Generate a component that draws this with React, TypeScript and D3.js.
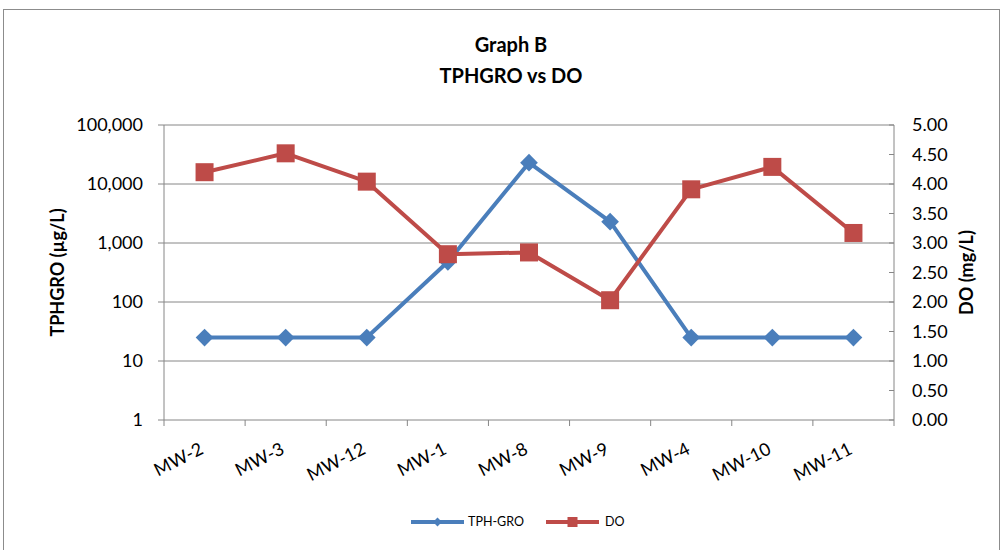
import React from "react";
import * as d3 from "d3";

// Data
const categories = ["MW-2", "MW-3", "MW-12", "MW-1", "MW-8", "MW-9", "MW-4", "MW-10", "MW-11"];
const tphGro = [25, 25, 25, 480, 23000, 2300, 25, 25, 25];
const doValues = [4.2, 4.52, 4.04, 2.81, 2.84, 2.03, 3.91, 4.29, 3.17];
const leftTicks = [1, 10, 100, 1000, 10000, 100000];
const rightTicks = [0, 0.5, 1, 1.5, 2, 2.5, 3, 3.5, 4, 4.5, 5];

// Dimensions
const W = 1004;
const H = 550;
const plot = { left: 164, right: 894, top: 125, bottom: 420 };

// Colours
const blue = "#4A7EBB";
const red = "#BE4B48";
const grid = "#868686";
const font = "Lato, 'Open Sans', sans-serif";

const App = () => {
  const x = d3.scaleBand<string>().domain(categories).range([plot.left, plot.right]);
  const yL = d3.scaleLog().domain([1, 100000]).range([plot.bottom, plot.top]);
  const yR = d3.scaleLinear().domain([0, 5]).range([plot.bottom, plot.top]);
  const cx = (c: string) => (x(c) as number) + x.bandwidth() / 2;

  const tphLine = d3
    .line<number>()
    .x((_, i) => cx(categories[i]))
    .y((d) => yL(d));
  const doLine = d3
    .line<number>()
    .x((_, i) => cx(categories[i]))
    .y((d) => yR(d));

  const fmt = d3.format(",");
  const bounds = [...categories.map((c) => x(c) as number), plot.right];

  return (
    <svg
      width={W}
      height={H}
      style={{ position: "absolute", left: 0, top: 0, background: "#fff" }}
      fontFamily={font}
    >
      <rect x={3.5} y={9.5} width={996} height={560} fill="#fff" stroke="#8c8c8c" />

      {/* Title */}
      <text x={511} y={52} textAnchor="middle" fontSize={20} fontWeight="bold">
        Graph B
      </text>
      <text x={511} y={83} textAnchor="middle" fontSize={20} fontWeight="bold">
        TPHGRO vs DO
      </text>

      {/* Gridlines */}
      {leftTicks.slice(1).map((t) => (
        <line key={t} x1={plot.left} x2={plot.right} y1={yL(t)} y2={yL(t)} stroke={grid} strokeWidth={1} />
      ))}

      {/* Left axis */}
      <line x1={plot.left} x2={plot.left} y1={plot.top} y2={plot.bottom} stroke={grid} />
      {leftTicks.map((t) => (
        <g key={t} transform={`translate(0,${yL(t)})`}>
          <line x1={plot.left - 6} x2={plot.left} stroke={grid} />
          <text x={143} dy="0.35em" textAnchor="end" fontSize={18} fill="#000">
            {fmt(t)}
          </text>
        </g>
      ))}
      <text
        transform={`translate(64,${(plot.top + plot.bottom) / 2}) rotate(-90)`}
        textAnchor="middle"
        fontSize={18}
        fontWeight="bold"
      >
        TPHGRO (µg/L)
      </text>

      {/* Right axis */}
      <line x1={plot.right} x2={plot.right} y1={plot.top} y2={plot.bottom} stroke={grid} />
      {rightTicks.map((t) => (
        <g key={t} transform={`translate(0,${yR(t)})`}>
          <line x1={plot.right - 5} x2={plot.right} stroke={grid} />
          <text x={912} dy="0.35em" textAnchor="start" fontSize={18} fill="#000">
            {t.toFixed(2)}
          </text>
        </g>
      ))}
      <text
        transform={`translate(973,${(plot.top + plot.bottom) / 2}) rotate(-90)`}
        textAnchor="middle"
        fontSize={18}
        fontWeight="bold"
      >
        DO (mg/L)
      </text>

      {/* Bottom axis */}
      <line x1={plot.left} x2={plot.right} y1={plot.bottom} y2={plot.bottom} stroke={grid} />
      {bounds.map((b, i) => (
        <line key={i} x1={b} x2={b} y1={plot.bottom} y2={plot.bottom + 6} stroke={grid} />
      ))}
      {categories.map((c) => (
        <text
          key={c}
          transform={`translate(${cx(c)},${plot.bottom + 33}) rotate(-27)`}
          textAnchor="end"
          fontSize={18}
        >
          {c}
        </text>
      ))}

      {/* TPH-GRO series */}
      <path d={tphLine(tphGro) || ""} fill="none" stroke={blue} strokeWidth={4} strokeLinejoin="round" />
      {tphGro.map((d, i) => (
        <path
          key={i}
          d={d3.symbol(d3.symbolDiamond2, 200)() || ""}
          transform={`translate(${cx(categories[i])},${yL(d)})`}
          fill={blue}
        />
      ))}

      {/* DO series */}
      <path d={doLine(doValues) || ""} fill="none" stroke={red} strokeWidth={4} strokeLinejoin="round" />
      {doValues.map((d, i) => (
        <rect
          key={i}
          x={cx(categories[i]) - 9}
          y={yR(d) - 9}
          width={18}
          height={18}
          fill={red}
        />
      ))}

      {/* Legend */}
      <line x1={411} x2={464} y1={522} y2={522} stroke={blue} strokeWidth={4} />
      <path d={d3.symbol(d3.symbolDiamond2, 50)() || ""} transform="translate(437.5,522)" fill={blue} />
      <text x={468} y={522} dy="0.35em" fontSize={12.5}>
        TPH-GRO
      </text>
      <line x1={546} x2={599} y1={522} y2={522} stroke={red} strokeWidth={4} />
      <rect x={567.5} y={517} width={10} height={10} fill={red} />
      <text x={605} y={522} dy="0.35em" fontSize={12.5}>
        DO
      </text>
    </svg>
  );
};

export default App;
